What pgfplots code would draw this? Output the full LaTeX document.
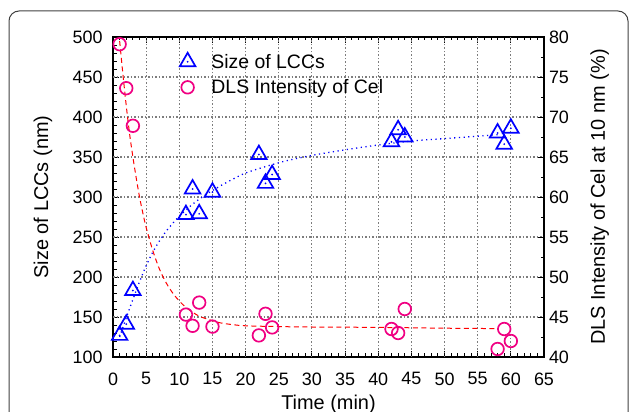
\documentclass[border=0pt]{standalone}
\usepackage{fontspec}
\setmainfont{Liberation Sans}
\usepackage{pgfplots}
\pgfplotsset{compat=1.18}
\definecolor{myblue}{RGB}{0,0,255}
\definecolor{mypink}{RGB}{240,0,130}
\definecolor{myred}{RGB}{255,0,0}
\definecolor{gridgray}{RGB}{125,125,125}
\pgfdeclareplotmark{tridot}{%
  \pgfpathmoveto{\pgfqpoint{0pt}{\pgfplotmarksize}}%
  \pgfpathlineto{\pgfqpoint{-.866\pgfplotmarksize}{-.5\pgfplotmarksize}}%
  \pgfpathlineto{\pgfqpoint{.866\pgfplotmarksize}{-.5\pgfplotmarksize}}%
  \pgfpathclose
  \pgfusepathqstroke
  \pgfpathcircle{\pgfpointorigin}{1pt}%
  \pgfusepathqfill
}
\pgfplotsset{
  common/.style={
    scale only axis, width=431bp, height=320bp,
    at={(113bp,55bp)}, anchor=south west,
    xmin=0, xmax=65,
    tick align=inside,
    major tick length=6bp, minor tick length=3.5bp,
    axis line style={line width=1.1bp, black},
    tick style={black, line width=0.9bp},
    tick label style={font=\fontsize{18}{21}\selectfont},
    /pgf/number format/assume math mode=true,
    label style={font=\fontsize{20}{24}\selectfont},
  }
}
\begin{document}
\begin{tikzpicture}
\useasboundingbox (0,0) rectangle (629bp,412bp);
\draw[line width=1bp, black!75, rounded corners=10bp] (9bp,0bp) -- (9bp,401bp) -- (628bp,401bp) -- (628bp,0bp);
\begin{axis}[
  common,
  ymin=100, ymax=500,
  xtick={0,5,...,65}, ytick={100,150,...,500},
  minor x tick num=4, minor y tick num=4,
  xtick pos=both, ytick pos=left,
  xticklabel pos=left, yticklabel pos=left,
  xticklabel style={yshift=-12bp},
  yticklabel style={xshift=-7bp},
  xlabel={Time (min)}, ylabel={Size of LCCs (nm)},
  xlabel style={at={(axis description cs:0.5,-0.1625)}, anchor=base},
  ylabel style={at={(axis description cs:-0.1508,0.5)}, rotate=0, anchor=base},
  legend cell align=left,
  legend style={draw=none, fill=none, at={(axis cs:9.6,484)}, anchor=north west,
    font=\fontsize{19.5}{23}\selectfont, row sep=6bp,
    /tikz/every odd column/.append style={column sep=14bp}},
  legend image code/.code={\draw[#1] plot coordinates {(0.3cm,0cm)};},
]
\pgfplotsinvokeforeach{5,10,...,60}{
  \draw[gridgray, line width=1.1bp, dash pattern=on 1.5bp off 2bp] (axis cs:#1,100) -- (axis cs:#1,500);
}
\pgfplotsinvokeforeach{150,200,...,450}{
  \draw[gridgray, line width=1.1bp, dash pattern=on 1.5bp off 2bp] (axis cs:0,#1) -- (axis cs:65,#1);
}
\addplot[myblue, dash pattern=on 1.2bp off 3.5bp, line width=1.3bp, smooth, forget plot] coordinates {
(1,125)(2,149)(3,172)(4,194)(5,214)(6,231)(7,245)(8,257)(9,267)(10,276)
(12,291)(14,303)(16,313)(18,322)(20,330)(23,338)(26,345)(30,352)(35,359)
(40,365)(45,370)(50,373)(55,376)(58,378)};
\addplot[myblue, only marks, mark=tridot, mark size=9bp, line width=1.7bp] coordinates {
(1,127)(2,141)(3,183)(11,278)(12,310)(13,279)(15,306)(22,353)(23,317)(24,328)
(42,369)(43,384)(44,375)(58,380)(59,366)(60,386)};
\addlegendentry{Size of LCCs}
\addlegendimage{mypink, only marks, mark=o, mark size=6.3bp, line width=1.7bp}
\addlegendentry{DLS Intensity of Cel}
\end{axis}
\begin{axis}[
  common,
  ymin=40, ymax=80,
  ytick={40,45,...,80}, minor y tick num=1,
  axis x line=none, axis y line*=right,
  yticklabel style={xshift=1.5bp},
  ylabel={DLS Intensity of Cel at 10 nm (\%)},
  ylabel style={at={(axis description cs:1.1415,0.5)}, rotate=0, anchor=base},
]
\addplot[myred, dash pattern=on 5bp off 3.5bp, line width=1bp, smooth] coordinates {
(1,79.5)(1.5,75.3)(2,71.4)(2.5,67.9)(3,65.0)(3.5,62.4)(4,60.0)(4.5,58.0)(5,56.2)
(6,53.3)(7,51.0)(8,49.3)(9,48.0)(10,47.0)(11,46.2)(12,45.6)(13,45.1)(14,44.8)
(16,44.3)(18,44.05)(20,43.9)(25,43.8)(30,43.75)(40,43.7)(50,43.6)(58,43.55)};
\addplot[mypink, only marks, mark=o, mark size=6.3bp, line width=1.7bp] coordinates {
(1,79.1)(2,73.6)(3,68.9)(11,45.3)(12,43.9)(13,46.8)(15,43.8)(22,42.7)(23,45.4)
(24,43.7)(42,43.5)(43,43.0)(44,46.0)(58,41.0)(59,43.5)(60,42.0)};
\end{axis}
\end{tikzpicture}
\end{document}
